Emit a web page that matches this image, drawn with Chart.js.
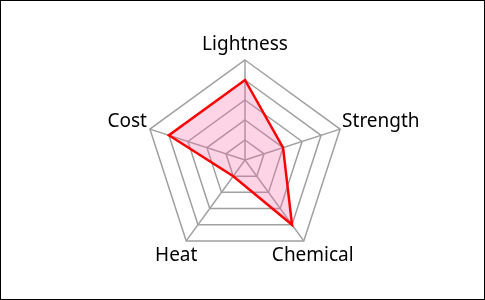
<!DOCTYPE html>
<html>
<head>
<meta charset="utf-8">
<script src="https://cdn.jsdelivr.net/npm/chart.js@4"></script>
<style>
  html, body { margin: 0; padding: 0; background: #fff; }
  #wrap { width: 485px; height: 300px; box-sizing: border-box; border: 1px solid #000; position: relative; }
</style>
</head>
<body>
<div id="wrap"><canvas id="radar"></canvas></div>
<script>
const categories = ["Lightness", "Strength", "Chemical", "Heat", "Cost"];
const scores = [4, 2, 4, 1, 4];
const scaleMax = 5;

// axis labels placed like the original (centered at bottom, side ones hugging the corner)
const axisLabels = {
  id: "axisLabels",
  afterDraw(chart) {
    const scale = chart.scales.r;
    const ctx = chart.ctx;
    const R = scale.drawingArea;
    ctx.save();
    ctx.fillStyle = "#000";
    ctx.font = "19px 'Noto Sans'";
    ctx.textBaseline = "middle";
    categories.forEach((name, i) => {
      const p = scale.getPointPosition(i, R);
      let x = p.x, y = p.y;
      if (Math.abs(x - scale.xCenter) < 2) {
        ctx.textAlign = "center";
        y -= 15;
      } else if (y < scale.yCenter) {
        ctx.textAlign = x > scale.xCenter ? "left" : "right";
        x += x > scale.xCenter ? 2 : -3;
        y -= 8;
      } else {
        ctx.textAlign = "center";
        x += x > scale.xCenter ? 9 : -10;
        y += 15;
      }
      ctx.fillText(name, x, y);
    });
    ctx.restore();
  }
};

new Chart(document.getElementById("radar"), {
  type: "radar",
  data: {
    labels: categories,
    datasets: [{
      label: "Score",
      data: scores,
      borderColor: "#ff0000",
      borderWidth: 2.5,
      backgroundColor: "rgba(245, 100, 160, 0.28)",
      pointRadius: 0,
      fill: true
    }]
  },
  options: {
    responsive: true,
    maintainAspectRatio: false,
    animation: false,
    layout: { padding: { top: 59, bottom: 39, left: 5, right: 0 } },
    plugins: { legend: { display: false }, tooltip: { enabled: false } },
    scales: {
      r: {
        min: 0,
        max: scaleMax,
        ticks: { stepSize: 1, display: false },
        grid: { color: "#a0a0a0", lineWidth: 1.5 },
        angleLines: { color: "#a0a0a0", lineWidth: 1.5 },
        pointLabels: { display: false }
      }
    }
  },
  plugins: [axisLabels]
});
</script>
</body>
</html>
